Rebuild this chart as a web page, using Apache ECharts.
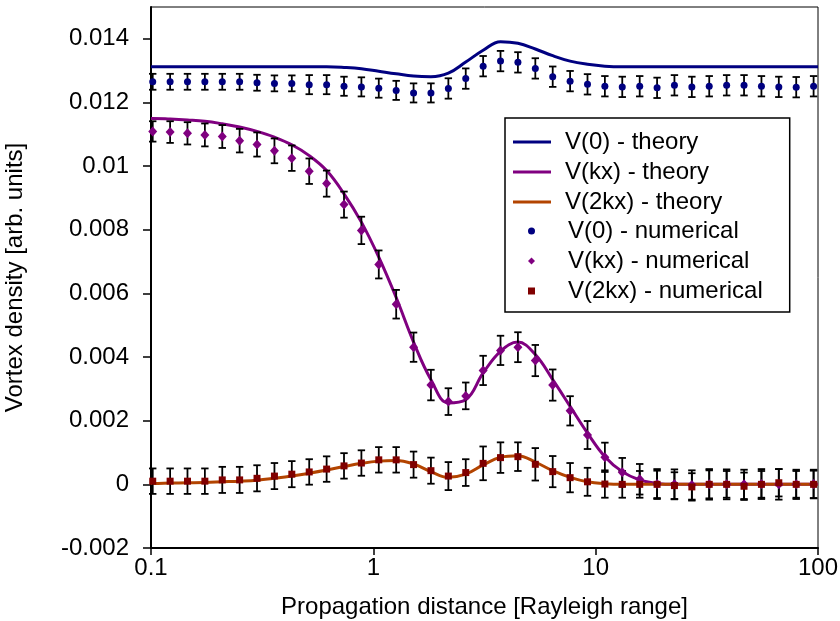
<!DOCTYPE html>
<html>
<head>
<meta charset="utf-8">
<script src="https://cdn.jsdelivr.net/npm/echarts@6/dist/echarts.min.js"></script>
<style>html,body{margin:0;padding:0;background:#fff;}#c{width:840px;height:621px;}</style>
</head>
<body>
<div id="c"></div>
<script>
// Propagation distances of the numerical samples (Rayleigh ranges)
const xNum = [0.1018,0.1219,0.1459,0.1747,0.2092,0.2504,0.2998,0.3591,0.4299,0.5148,0.6165,0.7381,0.8837,1.058,1.267,1.517,1.816,2.175,2.604,3.118,3.733,4.470,5.353,6.409,7.674,9.189,11.00,13.17,15.78,18.89,22.61,27.08,32.42,38.82,46.49,55.67,66.64,79.80,95.54];
// Theory curves sampled at these distances
const xTheory = [0.1,0.1018,0.1219,0.1459,0.1747,0.2092,0.2504,0.2998,0.3591,0.4299,0.5148,0.6165,0.7381,0.8837,1.058,1.267,1.517,1.816,2.175,2.604,3.118,3.733,4.470,5.353,6.409,7.674,9.189,11.00,13.17,15.78,18.89,22.61,27.08,32.42,38.82,46.49,55.67,66.64,79.80,95.54,100];
const v0Theory = [0.01312,0.01312,0.01312,0.01312,0.01312,0.01312,0.01312,0.01312,0.01312,0.01312,0.01312,0.01312,0.0131,0.01306,0.01298,0.0129,0.01283,0.01281,0.01292,0.01327,0.01364,0.01391,0.01386,0.01368,0.01347,0.0133,0.0132,0.01314,0.01312,0.01312,0.01312,0.01312,0.01312,0.01312,0.01312,0.01312,0.01312,0.01312,0.01312,0.01312,0.01312];
const vkTheory = [0.0115,0.0115,0.01148,0.01145,0.01141,0.01133,0.01123,0.01109,0.01091,0.01067,0.01033,0.00986,0.00913,0.00824,0.00714,0.00587,0.00447,0.00329,0.00256,0.00266,0.0035,0.00418,0.00447,0.00408,0.00329,0.00245,0.00161,0.00087,0.0004,0.00014,0.00003,0,0,0,0,0,0,0,0,0,0];
const v2kTheory = [0.00003,0.00003,0.00004,0.00005,0.00006,0.00008,0.0001,0.00013,0.00019,0.00026,0.00035,0.00045,0.00056,0.00066,0.00073,0.00075,0.00064,0.0004,0.00022,0.00032,0.00061,0.00085,0.0009,0.0007,0.00043,0.00022,0.00008,0.00002,0,0,0,0,0,0,0,0,0,0,0,0,0];
// Numerical results
const v0Num = [0.01265,0.01265,0.01265,0.01265,0.01265,0.01265,0.01262,0.0126,0.0126,0.01256,0.01256,0.01251,0.01249,0.01245,0.01238,0.0123,0.0123,0.01244,0.01275,0.01314,0.0133,0.01326,0.01307,0.01281,0.01267,0.01257,0.01251,0.01249,0.01251,0.01246,0.01254,0.01249,0.01251,0.01254,0.01254,0.01251,0.01249,0.01248,0.01251];
const v0Err = [0.00025,0.00025,0.00025,0.00025,0.00025,0.00025,0.00025,0.00025,0.00025,0.0003,0.0003,0.0003,0.0003,0.0003,0.0003,0.0003,0.0003,0.00032,0.00032,0.00032,0.00032,0.00032,0.00032,0.00032,0.00032,0.00032,0.00032,0.00032,0.00032,0.00032,0.00032,0.00032,0.00032,0.00032,0.00032,0.00032,0.00032,0.00032,0.00032];
const vkNum = [0.01109,0.01107,0.01103,0.01098,0.01093,0.0108,0.01068,0.01048,0.01025,0.00984,0.00945,0.00879,0.00798,0.00691,0.00566,0.00431,0.00312,0.0026,0.00278,0.00358,0.00421,0.00431,0.00389,0.00312,0.00231,0.00155,0.00085,0.00038,0.00016,0.00001,0,-0.00002,0,0,0,0.00001,0,0,0.00001];
const vkErr = [0.00032,0.00034,0.00035,0.00036,0.00036,0.00037,0.00038,0.00039,0.0004,0.0004,0.00041,0.00041,0.00043,0.00044,0.00045,0.00046,0.00048,0.00042,0.00042,0.00046,0.00046,0.00047,0.00049,0.00049,0.00046,0.00044,0.00046,0.00045,0.00048,0.00047,0.00047,0.00046,0.00048,0.00047,0.00046,0.00047,0.00048,0.00046,0.00045];
const v2kNum = [0.0001,0.0001,0.0001,0.0001,0.00014,0.00014,0.00019,0.00026,0.00032,0.00039,0.00048,0.00058,0.00067,0.00077,0.00077,0.00062,0.00043,0.00026,0.00037,0.00066,0.00084,0.00087,0.00063,0.0004,0.00021,0.00008,0.00001,0,0,0,-0.00004,-0.00008,0,0,-0.00006,0,0.00005,0,0];
const v2kErr = [0.0004,0.0004,0.0004,0.0004,0.00041,0.00041,0.00041,0.00041,0.00041,0.0004,0.0004,0.0004,0.0004,0.0004,0.0004,0.00041,0.00041,0.00044,0.00042,0.00053,0.00048,0.00045,0.00051,0.00049,0.00046,0.00044,0.00043,0.00042,0.00042,0.00043,0.00042,0.00043,0.00044,0.00042,0.00043,0.00042,0.00043,0.00042,0.00043];
const xTicks = [0.1, 1, 10, 100];
const theoryNames = ['V(0) - theory','V(kx) - theory','V(2kx) - theory'];
const numericalNames = ['V(0) - numerical','V(kx) - numerical','V(2kx) - numerical'];

const FONT = 'Liberation Sans, Arial, Helvetica, sans-serif';
const C0 = '#000080', CK = '#800080', C2K = '#b34400', C2KP = '#800000';

function pairs(xs, ys) { return xs.map((x, i) => [x, ys[i]]); }

function errSeries(ys, errs) {
  return {
    type: 'custom',
    silent: true,
    z: 3,
    data: xNum.map((x, i) => [x, ys[i], errs[i]]),
    encode: { x: 0, y: 1 },
    renderItem: function (params, api) {
      const x = api.value(0), y = api.value(1), e = api.value(2);
      const t = api.coord([x, y + e]);
      const b = api.coord([x, y - e]);
      const hw = 3.7;
      const st = { stroke: '#000', lineWidth: 1.8 };
      return {
        type: 'group',
        children: [
          { type: 'line', shape: { x1: t[0], y1: t[1], x2: b[0], y2: b[1] }, style: st },
          { type: 'line', shape: { x1: t[0] - hw, y1: t[1], x2: t[0] + hw, y2: t[1] }, style: st },
          { type: 'line', shape: { x1: b[0] - hw, y1: b[1], x2: b[0] + hw, y2: b[1] }, style: st }
        ]
      };
    }
  };
}

function lineSeries(name, ys, color, z) {
  return {
    type: 'line', name: name, data: pairs(xTheory, ys), smooth: 0.4,
    showSymbol: false, symbol: 'none', z: z,
    lineStyle: { color: color, width: 3 }, itemStyle: { color: color }
  };
}

function scatterSeries(name, ys, color, symbol, size) {
  return {
    type: 'scatter', name: name, data: pairs(xNum, ys), symbol: symbol, symbolSize: size,
    z: 5, itemStyle: { color: color, opacity: 1 }
  };
}

const legendText = { fontSize: 24, color: '#000', fontFamily: FONT, lineHeight: 24 };

const chart = echarts.init(document.getElementById('c'), null, { renderer: 'canvas' });
chart.setOption({
  animation: false,
  backgroundColor: '#fff',
  textStyle: { fontFamily: FONT },
  grid: { left: 151, right: 22, top: 7, bottom: 73, containLabel: false, outerBoundsMode: 'none',
    show: true, borderColor: '#000', borderWidth: 1, backgroundColor: 'transparent' },
  xAxis: {
    type: 'log', logBase: 10, min: 0.1, max: 100,
    name: 'Propagation distance [Rayleigh range]', nameLocation: 'middle', nameGap: 47,
    nameTextStyle: { fontSize: 24, color: '#000', fontFamily: FONT },
    axisLine: { show: true, onZero: false, lineStyle: { color: '#000', width: 2 } },
    axisTick: { show: true, inside: false, length: 7, lineStyle: { color: '#000', width: 1.5 } },
    minorTick: { show: false },
    splitLine: { show: false },
    axisLabel: { fontSize: 24, color: '#000', margin: 8, fontFamily: FONT,
      formatter: function (v) { const t = xTicks.find(k => Math.abs(k - v) / k < 1e-6); return t === undefined ? '' : String(t); } }
  },
  yAxis: {
    type: 'value', min: -0.002, max: 0.015, interval: 0.002,
    name: 'Vortex density [arb. units]', nameLocation: 'middle', nameGap: 124, nameRotate: 90,
    nameTextStyle: { fontSize: 24, color: '#000', fontFamily: FONT },
    axisLine: { show: true, onZero: false, lineStyle: { color: '#000', width: 2 } },
    axisTick: { show: true, inside: false, length: 8, lineStyle: { color: '#000', width: 1.5 } },
    splitLine: { show: false },
    axisLabel: { fontSize: 24, color: '#000', margin: 22, fontFamily: FONT, showMaxLabel: false,
      formatter: function (v) { if (v > 0.0145) return ''; return String(parseFloat(v.toFixed(4))); } }
  },
  legend: [
    {
      // numerical entries; its frame encloses the whole legend
      data: numericalNames.map(n => ({ name: n })),
      orient: 'vertical', left: 505, top: 118,
      padding: [101, 27, 9, 23], itemWidth: 7, itemHeight: 7, itemGap: 6,
      backgroundColor: 'transparent', borderColor: '#000', borderWidth: 1.5, borderRadius: 0,
      textStyle: Object.assign({ padding: [0, 0, 0, 28] }, legendText),
      selectedMode: false, z: 4
    },
    {
      data: theoryNames.map(n => ({ name: n, icon: 'rect' })),
      orient: 'vertical', left: 513, top: 130,
      padding: 0, itemWidth: 38, itemHeight: 3, itemGap: 6,
      backgroundColor: 'transparent', borderWidth: 0,
      textStyle: Object.assign({ padding: [0, 0, 0, 9] }, legendText),
      selectedMode: false, z: 5
    }
  ],
  series: [
    lineSeries('V(0) - theory', v0Theory, C0, 2),
    lineSeries('V(kx) - theory', vkTheory, CK, 2),
    lineSeries('V(2kx) - theory', v2kTheory, C2K, 2),
    errSeries(v0Num, v0Err),
    errSeries(vkNum, vkErr),
    errSeries(v2kNum, v2kErr),
    scatterSeries('V(0) - numerical', v0Num, C0, 'circle', 7),
    scatterSeries('V(kx) - numerical', vkNum, CK, 'diamond', [9, 10]),
    scatterSeries('V(2kx) - numerical', v2kNum, C2KP, 'rect', 7)
  ]
});
</script>
</body>
</html>
